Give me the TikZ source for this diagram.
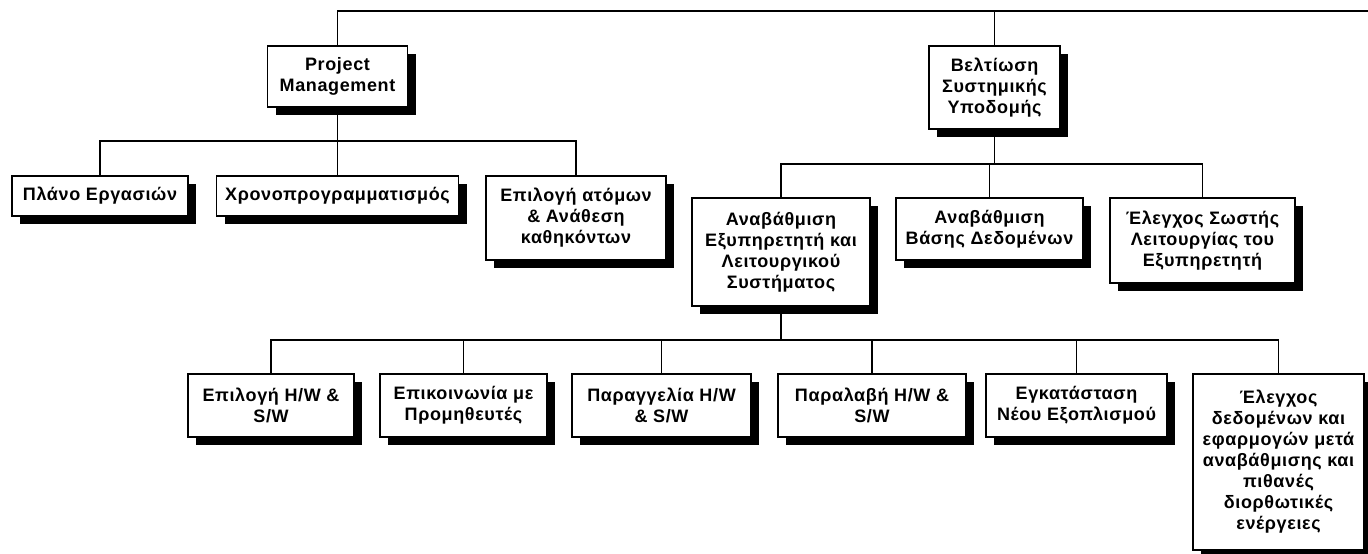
\documentclass[tikz,border=0pt]{standalone}
\usepackage{fontspec}
\setmainfont{Liberation Sans}[LetterSpace=3.5]
\usetikzlibrary{shadows}
\begin{document}
\begin{tikzpicture}[x=1pt,y=-1pt,
  box/.style={draw=black, line width=1.4pt, fill=white, align=center,
    inner sep=0pt, font=\bfseries\fontsize{18}{21}\selectfont,
    drop shadow={shadow xshift=8pt, shadow yshift=-8pt, fill=black, opacity=1}},
  link/.style={line width=1.4pt}]
\useasboundingbox (0,0) rectangle (1368,554);
\fill[white] (0,0) rectangle (1368,554);

% second level
\node[box, minimum width=140pt, minimum height=61pt] (pm) at (337.5,76.5) {Project\\Management};
\node[box, minimum width=131pt, minimum height=83pt] (bel) at (994.5,87.5) {Βελτίωση\\Συστημικής\\Υποδομής};

% project management tasks
\node[box, minimum width=176pt, minimum height=40pt] (plano) at (100,196) {Πλάνο Εργασιών};
\node[box, minimum width=242pt, minimum height=40pt] (chrono) at (337.5,196) {Χρονοπρογραμματισμός};
\node[box, minimum width=180pt, minimum height=84pt] (epil) at (576,218) {Επιλογή ατόμων\\\& Ανάθεση\\καθηκόντων};

% infrastructure tasks
\node[box, minimum width=178pt, minimum height=108pt] (anex) at (781,252) {Αναβάθμιση\\Εξυπηρετητή και\\Λειτουργικού\\Συστήματος};
\node[box, minimum width=187pt, minimum height=62pt] (anbd) at (989.5,229) {Αναβάθμιση\\Βάσης Δεδομένων};
\node[box, minimum width=185pt, minimum height=85pt] (els) at (1202.5,240.5) {Έλεγχος Σωστής\\Λειτουργίας του\\Εξυπηρετητή};

% server upgrade sub-tasks
\node[box, minimum width=166pt, minimum height=63pt] (ephw) at (271,405.5) {Επιλογή H/W \&\\S/W};
\node[box, minimum width=167pt, minimum height=63pt] (epik) at (463.5,405.5) {Επικοινωνία με\\Προμηθευτές};
\node[box, minimum width=179pt, minimum height=63pt] (parag) at (661.5,405.5) {Παραγγελία H/W\\\& S/W};
\node[box, minimum width=188pt, minimum height=63pt] (paral) at (872,405.5) {Παραλαβή H/W \&\\S/W};
\node[box, minimum width=181pt, minimum height=63pt] (egk) at (1076.5,405.5) {Εγκατάσταση\\Νέου Εξοπλισμού};
\node[box, minimum width=171pt, minimum height=176pt] (eleg) at (1278.5,462) {Έλεγχος\\δεδομένων και\\εφαρμογών μετά\\αναβάθμισης και\\πιθανές\\διορθωτικές\\ενέργειες};

% connectors
\coordinate (topR) at (1368,11);
\coordinate (pmbus) at (337.5,141);
\coordinate (belbus) at (994.5,164);
\coordinate (anbus) at (781,340);

\draw[link] (pm.north) |- (topR);
\draw[link] (bel.north) -- (bel.north |- topR);

\draw[link] (pm.south) -- (chrono.north);
\draw[link] (plano.north) |- (pmbus) -| (epil.north);

\draw[link] (bel.south) -- (belbus);
\draw[link] (anex.north) |- (belbus) -| (els.north);
\draw[link] (anbd.north) -- (anbd.north |- belbus);

\draw[link] (anex.south) -- (anbus);
\draw[link] (ephw.north) |- (anbus) -| (eleg.north);
\draw[link] (epik.north) -- (epik.north |- anbus);
\draw[link] (parag.north) -- (parag.north |- anbus);
\draw[link] (paral.north) -- (paral.north |- anbus);
\draw[link] (egk.north) -- (egk.north |- anbus);
\end{tikzpicture}
\end{document}
